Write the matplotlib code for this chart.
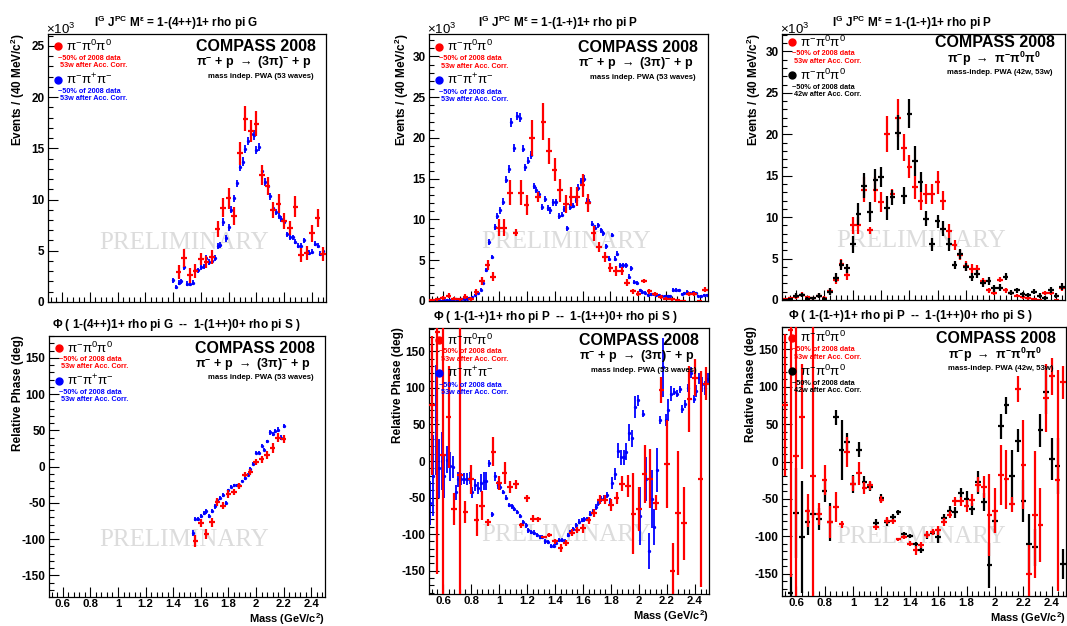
import numpy as np
import matplotlib
matplotlib.use("Agg")
from matplotlib import pyplot as plt
from matplotlib.ticker import MultipleLocator, AutoMinorLocator, FuncFormatter
from matplotlib.transforms import offset_copy

plt.rcParams['font.family'] = ['Liberation Sans', 'DejaVu Sans']
plt.rcParams['font.weight'] = 'bold'
plt.rcParams['mathtext.default'] = 'regular'
plt.rcParams['axes.unicode_minus'] = False

# ---------------- data (intensity in 10^3 events, phase in deg) ----------------
# 1-(4++)1+ rho pi G : intensity
g_red_m = np.round(np.arange(1.44, 2.481, 0.04), 2)
g_red_y = [2.9, 4.3, 2.6, 3.0, 4.2, 3.9, 4.4, 7.1, 9.2, 10.1, 8.4, 14.5, 17.9, 16.7,
           17.4, 12.4, 11.3, 9.0, 9.6, 7.9, 7.2, 9.3, 4.6, 4.8, 6.7, 8.2, 4.7]
g_red_e = [0.7, 0.85, 0.7, 0.7, 0.6, 0.6, 0.7, 0.8, 0.9, 1.0, 0.9, 1.1, 1.2, 1.1,
           1.2, 1.0, 0.9, 0.8, 0.9, 0.8, 0.7, 1.0, 0.7, 0.7, 0.8, 0.9, 0.7]
g_blue_m = np.round(np.arange(1.40, 2.481, 0.02), 2)
g_blue_y = [2.1, 1.5, 1.9, 2.0, 3.4, 1.8, 1.8, 1.9, 3.1, 3.1,
            3.4, 3.5, 4.3, 3.9, 4.0, 4.3, 5.5, 5.6, 7.8, 6.2,
            7.3, 9.0, 10.1, 11.6, 13.2, 13.7, 14.9, 15.7, 16.4, 16.3,
            14.8, 15.1, 12.8, 11.7, 11.3, 10.3, 9.2, 8.8, 8.4, 8.1,
            7.8, 6.6, 6.3, 6.3, 5.9, 5.5, 5.5, 6.0, 5.0, 4.8,
            4.9, 5.7, 5.5, 4.7, 5.0]
g_blue_e = [0.2, 0.2, 0.2, 0.2, 0.25, 0.2, 0.2, 0.2, 0.25, 0.25,
            0.25, 0.25, 0.3, 0.25, 0.25, 0.3, 0.3, 0.3, 0.35, 0.3,
            0.35, 0.35, 0.35, 0.35, 0.4, 0.4, 0.4, 0.4, 0.45, 0.45,
            0.4, 0.4, 0.35, 0.35, 0.35, 0.3, 0.3, 0.3, 0.3, 0.3,
            0.3, 0.25, 0.25, 0.25, 0.25, 0.25, 0.25, 0.25, 0.25, 0.25,
            0.25, 0.25, 0.25, 0.25, 0.25]

# 1-(4++)1+ rho pi G : phase vs 1-(1++)0+ rho pi S
gp_red_m = np.round(np.arange(1.56, 2.201, 0.04), 2)
gp_red_y = [-103, -78, -93, -77, -49, -54, -38, -35, -27, -11, -7, 6, 10, 16, 25, 40, 38]
gp_red_e = [8, 6, 7, 6, 5, 5, 5, 4, 4, 4, 4, 4, 5, 5, 7, 6, 6]
gp_blue_m = np.round(np.arange(1.54, 2.201, 0.02), 2)
gp_blue_y = [-92, -72, -72, -68, -64, -62, -68, -61, -55, -46,
             -43, -39, -50, -33, -28, -26, -26, -25, -20, -16,
             -11, -3, 4, 19, 19, 29, 23, 35, 47, 45,
             49, 51, 40, 56]
gp_blue_e = [4, 3, 3, 3, 3, 3, 3, 3, 3, 3,
             3, 3, 3, 2, 2, 2, 2, 2, 2, 2,
             2, 2, 2, 2, 2, 2, 2, 2, 3, 3,
             3, 3, 3, 3]

# 1-(1-+)1+ rho pi P : intensity
p_red_m = np.round(np.arange(0.52, 2.481, 0.04), 2)
p_red_y = [0.1, 0.2, 0.4, 0.65, 0.3, 0.2, 0.5, 0.25, 1.1, 2.4,
           4.4, 3.0, 9.0, 9.0, 13.3, 8.4, 13.3, 11.8, 20.0, 12.8,
           22.0, 18.4, 16.1, 13.6, 11.9, 12.8, 12.8, 14.2, 12.0, 8.3,
           6.6, 5.4, 4.1, 3.7, 3.7, 2.25, 1.2, 0.9, 2.45, 1.2,
           0.85, 0.5, 0.3, 0.2, 0.1, 0.05, 0.85, 0.85, 0.0, 1.4]
p_red_e = [0.15, 0.2, 0.25, 0.3, 0.2, 0.2, 0.3, 0.2, 0.35, 0.5,
           0.6, 0.6, 1.0, 1.0, 1.5, 0.4, 1.5, 1.2, 2.2, 0.6,
           2.3, 1.6, 1.4, 1.4, 1.1, 1.2, 1.2, 1.4, 1.1, 0.9,
           0.6, 0.6, 0.6, 0.6, 0.5, 0.4, 0.3, 0.3, 0.3, 0.3,
           0.25, 0.2, 0.2, 0.2, 0.1, 0.1, 0.2, 0.2, 0.1, 0.3]
p_blue_m = np.round(np.arange(0.51, 2.491, 0.02), 2)
p_blue_y = [0.05, 0.05, 0.1, 0.1, 0.05, 0.1, 0.1, 0.15, 0.1, 0.2,
            0.15, 0.2, 0.3, 0.25, 0.35, 0.5, 0.7, 0.95, 1.4, 2.2,
            3.8, 7.2, 5.4, 9.1, 10.4, 11.1, 12.2, 14.9, 16.2, 21.9,
            18.8, 22.7, 22.5, 18.7, 16.4, 17.2, 17.9, 14.1, 13.6, 13.1,
            11.5, 12.5, 11.4, 11.1, 12.1, 12.1, 10.4, 10.6, 11.3, 8.9,
            11.5, 11.7, 12.4, 13.9, 14.7, 15.0, 12.3, 12.2, 9.5, 9.0,
            9.3, 8.7, 8.3, 6.7, 5.2, 8.1, 5.2, 5.8, 4.4, 4.4,
            4.4, 3.0, 4.0, 2.3, 2.2, 1.3, 1.1, 1.0, 0.7, 0.8,
            0.8, 0.75, 0.75, 0.6, 0.6, 0.55, 0.6, 1.35, 1.35, 1.3,
            0.85, 0.95, 1.15, 0.95, 1.05, 0.95, 0.6, 0.6, 0.75, 0.75]
p_blue_e = [0.05, 0.05, 0.05, 0.05, 0.05, 0.05, 0.05, 0.05, 0.05, 0.05,
            0.05, 0.05, 0.1, 0.1, 0.1, 0.1, 0.15, 0.15, 0.2, 0.25,
            0.3, 0.35, 0.3, 0.4, 0.4, 0.4, 0.4, 0.45, 0.45, 0.5,
            0.5, 0.5, 0.5, 0.45, 0.45, 0.45, 0.45, 0.4, 0.4, 0.4,
            0.4, 0.4, 0.4, 0.4, 0.4, 0.4, 0.35, 0.35, 0.35, 0.35,
            0.35, 0.35, 0.4, 0.4, 0.4, 0.4, 0.35, 0.35, 0.35, 0.3,
            0.3, 0.3, 0.3, 0.3, 0.3, 0.3, 0.3, 0.3, 0.3, 0.3,
            0.3, 0.25, 0.3, 0.25, 0.25, 0.2, 0.2, 0.2, 0.15, 0.15,
            0.15, 0.15, 0.15, 0.15, 0.15, 0.15, 0.15, 0.2, 0.2, 0.2,
            0.15, 0.15, 0.2, 0.15, 0.15, 0.15, 0.15, 0.15, 0.15, 0.15]
p_blk_m = np.round(np.arange(0.52, 2.481, 0.04), 2)
p_blk_y = [0.0, 0.1, 0.5, 0.6, 0.1, 0.2, 0.5, 0.1, 1.0, 2.7,
           4.2, 3.8, 6.7, 10.4, 13.8, 10.6, 14.5, 14.8, 11.1, 12.4,
           20.2, 12.6, 22.5, 16.8, 14.2, 9.8, 6.7, 9.5, 8.6, 6.7,
           4.2, 5.5, 4.0, 2.8, 3.1, 2.0, 2.3, 1.4, 1.5, 2.8,
           0.9, 1.2, 0.7, 0.6, 1.0, 0.5, 0.2, 1.2, 0.5, 1.6]
p_blk_e = [0.1, 0.1, 0.3, 0.3, 0.2, 0.2, 0.3, 0.2, 0.4, 0.5,
           0.6, 0.6, 1.0, 1.3, 1.5, 1.2, 1.3, 1.2, 1.5, 0.9,
           2.1, 1.0, 1.8, 1.8, 1.2, 0.9, 0.8, 0.8, 0.9, 0.8,
           0.5, 0.6, 0.5, 0.5, 0.5, 0.4, 0.5, 0.4, 0.4, 0.4,
           0.3, 0.3, 0.3, 0.3, 0.3, 0.3, 0.3, 0.4, 0.3, 0.4]

# 1-(1-+)1+ rho pi P : phase vs 1-(1++)0+ rho pi S
pp_red_m = np.round(np.arange(0.52, 2.481, 0.04), 2)
pp_red_y = [76, 176, 8, 60, -66, -19, -70, -25, -81, -61,
            -84, 13, -30, -16, -36, -32, -88, -51, -79, -80,
            -104, -101, -110, -119, -112, -98, -94, -92, -81, -71,
            -53, -53, -60, -51, -31, -34, -72, -66, -18, -24,
            -57, 97, -4, -150, -71, -85, 85, 114, -25, 106]
pp_red_e = [95, 330, 300, 70, 22, 300, 15, 20, 22, 20,
            5, 20, 10, 15, 8, 6, 3, 5, 5, 3,
            2, 3, 3, 6, 4, 5, 4, 6, 5, 5,
            6, 6, 8, 8, 10, 15, 55, 30, 40, 40,
            10, 18, 60, 38, 85, 50, 45, 25, 148, 22]
pp_blue_m = np.round(np.arange(0.51, 2.491, 0.02), 2)
pp_blue_y = [-57, -20, 56, -10, 0, -21, 2, -7, -8, -43,
             -25, -25, -24, -25, -23, -43, -33, -37, -30, -27,
             -27, -3, -73, -21, -33,
             -35, -42, -50, -60, -62, -66, -70, -75, -84, -88,
             -95, -97, -98, -101, -104, -104, -110, -111, -116, -116,
             -112, -108, -108, -110, -101, -97, -93, -88, -83, -81,
             -80, -79, -72, -68, -63, -57, -52, -50, -47, -56,
             -30, -18, 14, 5, 5, 13, 39, 31, 74, 83,
             -75, 65, -25, -123, -52, -90, -12, 56, 128, 56,
             70, 92, 95, 92, 98, 71, 78, 100, 121, 85,
             96, 113, 105, 100, 112]
pp_blue_e = [30, 55, 75, 40, 40, 30, 18, 20, 15, 10,
             10, 8, 8, 8, 8, 8, 8, 8, 12, 12,
             12, 5, 3, 6, 5,
             4, 3, 3, 3, 3, 3, 3, 3, 3, 3,
             3, 3, 3, 3, 3, 3, 3, 3, 3, 3,
             3, 3, 3, 3, 3, 3, 3, 3, 3, 3,
             3, 3, 3, 3, 4, 4, 4, 4, 4, 5,
             8, 8, 10, 10, 10, 12, 12, 12, 15, 8,
             40, 5, 30, 25, 40, 25, 30, 5, 40, 8,
             15, 10, 5, 5, 5, 5, 6, 5, 8, 6,
             8, 8, 10, 10, 8]
pp_blk_m = np.round(np.arange(0.56, 2.481, 0.04), 2)
pp_blk_y = [-176, -69, -101, -81, -70, -77, -39, -81, 59, 15,
            26, -30, 16, -28, -34, -82, -49, -81, -74, -68,
            -97, -100, -111, -118, -99, -95, -101, -76, -66, -68,
            -42, -50, -63, -28, -54, -139, -80, 47, 75, -20,
            28, -53, -110, -115, 42, 93, 3, -6, -137]
pp_blk_e = [25, 60, 75, 18, 5, 15, 15, 25, 10, 40,
            12, 12, 10, 8, 6, 5, 5, 5, 4, 3,
            3, 3, 3, 4, 5, 4, 8, 6, 6, 7,
            7, 10, 8, 15, 12, 30, 15, 17, 12, 35,
            15, 28, 40, 25, 22, 30, 28, 38, 20]

# ---------------- text ----------------
title_g = r'I$^{G}$ J$^{PC}$ M$^{\epsilon}$ = 1-(4++)1+ rho pi G'
title_p = r'I$^{G}$ J$^{PC}$ M$^{\epsilon}$ = 1-(1-+)1+ rho pi P'
title_gp = r'$\Phi$ ( 1-(4++)1+ rho pi G  --  1-(1++)0+ rho pi S )'
title_pp = r'$\Phi$ ( 1-(1-+)1+ rho pi P  --  1-(1++)0+ rho pi S )'
lab_00 = r'$\pi^{-}\pi^{0}\pi^{0}$'
lab_pm = r'$\pi^{-}\pi^{+}\pi^{-}$'
note_53 = ['~50% of 2008 data', ' 53w after Acc. Corr.']
note_42 = ['~50% of 2008 data', ' 42w after Acc. Corr.']
react_3pi = r'$\pi^{-}$ + p $\rightarrow$ (3$\pi$)$^{-}$ + p'
react_00 = r'$\pi^{-}$p $\rightarrow$ $\pi^{-}\pi^{0}\pi^{0}$'
pwa_53 = 'mass indep. PWA (53 waves)'
pwa_42 = 'mass-indep. PWA (42w, 53w)'

RED = '#ff0000'
BLUE = '#0000ff'
BLACK = '#000000'


def crosses(ax, m, y, e, color, z=3):
    ax.errorbar(m, y, yerr=e, xerr=0.02, fmt='none', ecolor=color,
                elinewidth=1.6, capsize=0, zorder=z)


def dots(ax, m, y, e, color, z=2):
    ax.errorbar(m, y, yerr=e, xerr=0.006, fmt='o', ms=2.4, mfc=color, mec=color,
                mew=0, ecolor=color, elinewidth=1.3, capsize=0, zorder=z)


def style_axes(ax, ylim, ymajor, xlabels):
    ax.set_xlim(0.5, 2.5)
    ax.set_ylim(*ylim)
    ax.xaxis.set_major_locator(MultipleLocator(0.2))
    ax.xaxis.set_minor_locator(AutoMinorLocator(5))
    ax.yaxis.set_major_locator(MultipleLocator(ymajor))
    ax.yaxis.set_minor_locator(AutoMinorLocator(5))
    ax.xaxis.set_major_formatter(FuncFormatter(lambda v, p: '%g' % round(v, 2)))
    ax.tick_params(which='both', direction='in', top=False, right=False,
                   labelsize=8.5, width=0.8, pad=2.5)
    ax.tick_params(which='major', length=7)
    ax.tick_params(which='minor', length=3.5)
    ax.tick_params(axis='x', labelbottom=xlabels, pad=1.5, labelsize=8.2)
    for s in ax.spines.values():
        s.set_linewidth(0.9)


def decorate(ax, title, title_x, ylab, ylab_x, entries, top, react, pwa, react_left):
    T = ax.transAxes
    ax.text(title_x, 1.042, title, transform=T, ha='center', va='center', fontsize=8.5)
    ax.text(ylab_x, 1.005, ylab, transform=T, rotation=90, ha='center', va='top', fontsize=8.5)
    # legend block
    offs = [(0.0, 0.045, 0.072), (0.125, 0.17, 0.197)]
    for (label, notes, color), (od, o1, o2) in zip(entries, offs):
        ax.plot([0.036], [top - od], 'o', ms=5, color=color, transform=T, clip_on=False, zorder=6)
        ax.text(0.065, top - od, label, transform=T, ha='left', va='center', fontsize=9.5,
                fontweight='normal', zorder=6)
        ax.text(0.036, top - o1, notes[0], transform=T, ha='left', va='center', fontsize=5.2,
                color=color, zorder=6)
        ax.text(0.036, top - o2, notes[1], transform=T, ha='left', va='center', fontsize=5.2,
                color=color, zorder=6)
    # experiment block
    ax.text(0.963, top - 0.002, 'COMPASS 2008', transform=T, ha='right', va='center',
            fontsize=11.5, zorder=6)
    if react_left:
        ax.text(0.583, top - 0.062, react, transform=T, ha='left', va='center', fontsize=9, zorder=6)
        ax.text(0.583, top - 0.114, pwa, transform=T, ha='left', va='center', fontsize=5.6, zorder=6)
    else:
        ax.text(0.948, top - 0.064, react, transform=T, ha='right', va='center', fontsize=9, zorder=6)
        ax.text(0.957, top - 0.114, pwa, transform=T, ha='right', va='center', fontsize=5.6, zorder=6)
    ax.text(0.49, 0.22, 'PRELIMINARY', transform=T, ha='center', va='center', fontsize=18,
            family='Liberation Serif', fontweight='normal', color='#dcdcdc', zorder=0)


fig = plt.figure(figsize=(10.67, 6.26), dpi=100)
rects = [
    (0.0450, 0.5176, 0.2605, 0.4281),
    (0.4021, 0.5192, 0.2615, 0.4265),
    (0.7329, 0.5208, 0.2652, 0.4249),
    (0.0459, 0.0463, 0.2587, 0.4169),
    (0.4021, 0.0511, 0.2624, 0.4249),
    (0.7329, 0.0479, 0.2662, 0.4297),
]
ax1, ax2, ax3, ax4, ax5, ax6 = [fig.add_axes(r) for r in rects]

ev_lab = r'Events / (40 MeV/c$^{2}$)'
ph_lab = 'Relative Phase (deg)'
m_lab = r'Mass (GeV/c$^{2}$)'

ent_rb53 = [(lab_00, note_53, RED), (lab_pm, note_53, BLUE)]
ent_rk = [(lab_00, note_53, RED), (lab_00, note_42, BLACK)]

# top row: intensities
dots(ax1, g_blue_m, g_blue_y, g_blue_e, BLUE)
crosses(ax1, g_red_m, g_red_y, g_red_e, RED)
style_axes(ax1, (0, 26.15), 5, False)
decorate(ax1, title_g, 0.46, ev_lab, -0.108, ent_rb53, 0.955, react_3pi, pwa_53, False)

dots(ax2, p_blue_m, p_blue_y, p_blue_e, BLUE)
crosses(ax2, p_red_m, p_red_y, p_red_e, RED)
style_axes(ax2, (0, 32.75), 5, False)
decorate(ax2, title_p, 0.462, ev_lab, -0.098, ent_rb53, 0.952, react_3pi, pwa_53, False)

crosses(ax3, p_red_m, p_red_y, p_red_e, RED, z=2)
crosses(ax3, p_blk_m, p_blk_y, p_blk_e, BLACK, z=3)
style_axes(ax3, (0, 32.1), 5, False)
decorate(ax3, title_p, 0.46, ev_lab, -0.10, ent_rk, 0.97, react_00, pwa_42, True)

for ax in (ax1, ax2, ax3):
    ax.text(-0.008, 1.018, r'$\times$10$^{3}$', transform=ax.transAxes, ha='left', va='center',
            fontsize=9.5, fontweight='normal')

# bottom row: phases
dots(ax4, gp_blue_m, gp_blue_y, gp_blue_e, BLUE)
crosses(ax4, gp_red_m, gp_red_y, gp_red_e, RED)
style_axes(ax4, (-180, 180), 50, True)
decorate(ax4, title_gp, 0.46, ph_lab, -0.112, ent_rb53, 0.954, react_3pi, pwa_53, False)

dots(ax5, pp_blue_m, pp_blue_y, pp_blue_e, BLUE)
crosses(ax5, pp_red_m, pp_red_y, pp_red_e, RED)
style_axes(ax5, (-182, 182), 50, True)
decorate(ax5, title_pp, 0.45, ph_lab, -0.112, ent_rb53, 0.955, react_3pi, pwa_53, False)

crosses(ax6, pp_blk_m, pp_blk_y, pp_blk_e, BLACK, z=2)
crosses(ax6, pp_red_m, pp_red_y, pp_red_e, RED, z=3)
style_axes(ax6, (-180, 180), 50, True)
decorate(ax6, title_pp, 0.45, ph_lab, -0.108, ent_rk, 0.96, react_00, pwa_42, True)

# x title sits just under the tick labels, right-aligned as in ROOT
for ax in (ax4, ax5, ax6):
    tr = offset_copy(ax.transAxes, fig=fig, x=0, y=-14, units='dots')
    ax.text(1.0, 0.0, m_lab, transform=tr, ha='right', va='top', fontsize=8)

fig.savefig('out.png', dpi=100)
